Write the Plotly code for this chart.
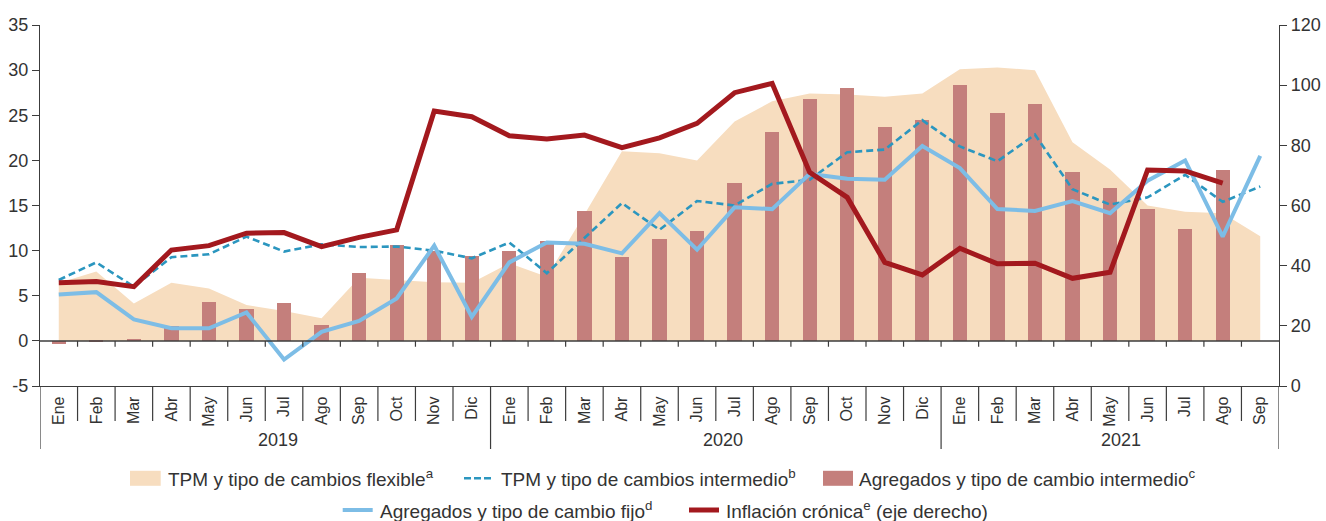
import plotly.graph_objects as go

# ---- data -------------------------------------------------------------
months = ["Ene", "Feb", "Mar", "Abr", "May", "Jun", "Jul", "Ago", "Sep", "Oct", "Nov", "Dic",
          "Ene", "Feb", "Mar", "Abr", "May", "Jun", "Jul", "Ago", "Sep", "Oct", "Nov", "Dic",
          "Ene", "Feb", "Mar", "Abr", "May", "Jun", "Jul", "Ago", "Sep"]
years = ["2019", "2020", "2021"]

left_ticks = [-5, 0, 5, 10, 15, 20, 25, 30, 35]
left_tick_text = ["-5", "0", "5", "10", "15", "20", "25", "30", "35"]
right_ticks = [0, 20, 40, 60, 80, 100, 120]

tpm_flexible = [6.4, 7.7, 4.15, 6.45, 5.8, 3.97, 3.3, 2.5, 7.0, 6.75, 6.5, 6.45,
                8.6, 7.1, 14.0, 21.0, 20.8, 20.0, 24.3, 26.55, 27.4, 27.3, 27.05, 27.4,
                30.1, 30.3, 30.0, 22.0, 19.0, 15.0, 14.3, 14.15, 11.6]

tpm_intermedio = [6.75, 8.7, 6.0, 9.27, 9.6, 11.55, 9.9, 10.7, 10.4, 10.45, 10.0, 9.15,
                  10.9, 7.5, 11.4, 15.27, 12.3, 15.5, 15.0, 17.4, 17.85, 20.9, 21.2, 24.45,
                  21.55, 19.9, 22.85, 16.8, 15.1, 15.9, 18.4, 15.4, 17.1]

agregados_intermedio = [-0.4, -0.1, 0.2, 1.7, 4.3, 3.5, 4.2, 1.8, 7.55, 10.6, 10.0, 9.4,
                        10.0, 11.1, 14.4, 9.3, 11.3, 12.2, 17.5, 23.15, 26.85, 27.97, 23.67, 24.5,
                        28.4, 25.2, 26.3, 18.67, 16.9, 14.6, 12.45, 18.97, None]

agregados_fijo = [5.15, 5.4, 2.38, 1.4, 1.4, 3.15, -2.07, 1.0, 2.2, 4.7, 10.55, 2.67,
                  8.7, 10.9, 10.75, 9.7, 14.15, 10.1, 14.8, 14.6, 18.5, 17.97, 17.85, 21.6,
                  19.15, 14.6, 14.4, 15.5, 14.15, 17.75, 20.0, 11.55, 20.5]

inflacion_cronica = [34.3, 34.7, 33.0, 45.2, 46.65, 50.8, 51.0, 46.3, 49.4, 51.9, 91.4, 89.5,
                     83.2, 82.1, 83.4, 79.2, 82.5, 87.3, 97.5, 100.6, 71.0, 62.7, 41.1, 36.9,
                     45.8, 40.6, 40.8, 35.8, 37.8, 71.8, 71.5, 67.4, None]

legend_names = ["TPM y tipo de cambios flexible<sup>a</sup>",
                "TPM y tipo de cambios intermedio<sup>b</sup>",
                "Agregados y tipo de cambio intermedio<sup>c</sup>",
                "Agregados y tipo de cambio fijo<sup>d</sup>",
                "Inflación crónica<sup>e</sup> (eje derecho)"]

# ---- style ------------------------------------------------------------
C_FLEX = "#F7DDBF"
C_TPM = "#2B96BF"
C_BAR = "#C47F7C"
C_FIJO = "#7DBDE6"
C_INFL = "#A3191E"
AX = "#3C3C3C"
TXT = "#333333"
FONT = "Liberation Sans, Arial, sans-serif"

W, H = 1326, 521
ML, MR, MT, MB = 40, 47, 25, 135
PW = W - ML - MR
PH = H - MT - MB


def px(xp):
    """pixel column -> paper x"""
    return (xp - ML) / PW


def py(yp):
    """pixel row -> paper y"""
    return (H - MB - yp) / PH


n = len(months)
xs = list(range(n))

fig = go.Figure()

# flexible regime: filled area on the base subplot (drawn underneath the bars)
fig.add_trace(go.Scatter(x=xs, y=tpm_flexible, mode="none", fill="tozeroy",
                         fillcolor=C_FLEX, xaxis="x", yaxis="y",
                         name=legend_names[0], showlegend=False))

# bars and the two left-axis lines sit on an overlay that shares the left scale
fig.add_trace(go.Scatter(x=xs, y=tpm_intermedio, mode="lines",
                         line=dict(color=C_TPM, width=2.6, dash="7px,4px"),
                         xaxis="x", yaxis="y2", name=legend_names[1], showlegend=False))
fig.add_trace(go.Bar(x=xs, y=agregados_intermedio, width=0.38, marker_color=C_BAR,
                     marker_line_width=0, xaxis="x", yaxis="y2",
                     name=legend_names[2], showlegend=False))
fig.add_trace(go.Scatter(x=xs, y=agregados_fijo, mode="lines",
                         line=dict(color=C_FIJO, width=4),
                         xaxis="x", yaxis="y2", name=legend_names[3], showlegend=False))

# chronic inflation on the right axis
fig.add_trace(go.Scatter(x=xs, y=inflacion_cronica, mode="lines",
                         line=dict(color=C_INFL, width=5),
                         xaxis="x", yaxis="y3", name=legend_names[4], showlegend=False))

shapes = []
# zero line with small ticks between months
shapes.append(dict(type="line", xref="paper", yref="y", x0=0, x1=1, y0=0, y1=0,
                   line=dict(color=AX, width=1.5), layer="above"))
for k in range(1, n):
    shapes.append(dict(type="line", xref="x", yref="y", x0=k - 0.5, x1=k - 0.5,
                       y0=0, y1=-0.65, line=dict(color=AX, width=1.2), layer="above"))

# separators in the category band below the plot
year_breaks = [-0.5, 11.5, 23.5, n - 0.5]
for k in range(1, n):
    xb = k - 0.5
    if xb in year_breaks:
        continue
    shapes.append(dict(type="line", xref="x", yref="paper", x0=xb, x1=xb,
                       y0=0, y1=py(421), line=dict(color=AX, width=1.2)))
for xb in year_breaks:
    shapes.append(dict(type="line", xref="x", yref="paper", x0=xb, x1=xb,
                       y0=0, y1=py(449), line=dict(color=AX, width=1.2)))

annotations = []
year_pos = [5.85, 17.69, 28.3]
for yr, xp in zip(years, year_pos):
    annotations.append(dict(text=yr, x=xp, xref="x", y=py(440), yref="paper",
                            showarrow=False, xanchor="center", yanchor="middle",
                            font=dict(family=FONT, size=18, color=TXT)))

# legend: swatches + labels
leg_font = dict(family=FONT, size=19, color=TXT)
row1, row2 = 478.3, 510.0
shapes.append(dict(type="rect", xref="paper", yref="paper", x0=px(130), x1=px(160.7),
                   y0=py(row1 + 7.5), y1=py(row1 - 7.5), fillcolor=C_FLEX, line_width=0))
shapes.append(dict(type="line", xref="paper", yref="paper", x0=px(464), x1=px(494),
                   y0=py(row1), y1=py(row1),
                   line=dict(color=C_TPM, width=2.6, dash="7px,3px")))
shapes.append(dict(type="rect", xref="paper", yref="paper", x0=px(823), x1=px(853),
                   y0=py(row1 + 7.5), y1=py(row1 - 7.5), fillcolor=C_BAR, line_width=0))
shapes.append(dict(type="line", xref="paper", yref="paper", x0=px(342.7), x1=px(372.7),
                   y0=py(row2), y1=py(row2), line=dict(color=C_FIJO, width=4)))
shapes.append(dict(type="line", xref="paper", yref="paper", x0=px(689), x1=px(719),
                   y0=py(row2), y1=py(row2), line=dict(color=C_INFL, width=5)))

label_spots = [(165.5, row1), (499, row1), (857, row1), (378, row2), (724, row2)]
for name, (lx, ly) in zip(legend_names, label_spots):
    annotations.append(dict(text=name, x=px(lx), xref="paper", y=py(ly), yref="paper",
                            showarrow=False, xanchor="left", yanchor="middle",
                            font=leg_font))

fig.update_layout(
    width=W, height=H,
    margin=dict(l=ML, r=MR, t=MT, b=MB, pad=0),
    paper_bgcolor="white", plot_bgcolor="white",
    showlegend=False,
    bargap=0,
    xaxis=dict(range=[-0.5, n - 0.5], tickmode="array", tickvals=xs, ticktext=months,
               tickangle=-90, ticks="", showgrid=False, zeroline=False,
               showline=True, linecolor=AX, linewidth=1.3, automargin=False,
               tickfont=dict(family=FONT, size=16, color=TXT), ticklabelstandoff=3),
    yaxis=dict(range=[-5, 35], tickmode="array", tickvals=left_ticks,
               ticktext=left_tick_text, automargin=False,
               ticks="outside", ticklen=7, tickcolor=AX, tickwidth=1.2,
               showgrid=False, zeroline=False, showline=True, linecolor=AX, linewidth=1.3,
               tickfont=dict(family=FONT, size=18, color=TXT)),
    yaxis2=dict(range=[-5, 35], overlaying="y", visible=False, showgrid=False,
                zeroline=False),
    yaxis3=dict(range=[0, 120], overlaying="y", side="right", anchor="x",
                tickmode="array", tickvals=right_ticks, automargin=False,
                ticks="outside", ticklen=7, tickcolor=AX, tickwidth=1.2,
                showgrid=False, zeroline=False, showline=True, linecolor=AX, linewidth=1.3,
                tickfont=dict(family=FONT, size=18, color=TXT)),
    shapes=shapes,
    annotations=annotations,
)

fig.write_html("out.html")
